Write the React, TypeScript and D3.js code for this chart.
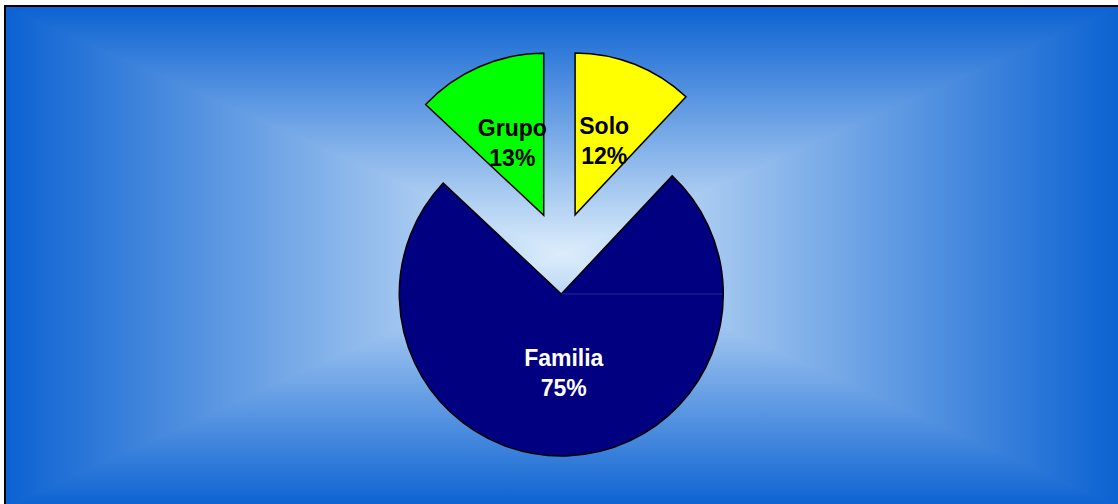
import React from "react";
import * as d3 from "d3";

const categories = ["Familia", "Grupo", "Solo"];
const values = [75, 13, 12];
const sliceColors = ["#000080", "#00ff00", "#ffff00"];
const labelColors = ["#ffffff", "#000000", "#000000"];

const W = 1118;
const H = 504;

export default function App() {
  const x0 = 6, y0 = 7, x1 = 1119, y1 = 507;
  const gcx = (x0 + x1) / 2;
  const gcy = 254;
  const edge = "#0c62d2";
  const mid = "#dcedfb";

  const cx = 560, cy = 253, R = 162, explode = 41, labelR = 79;
  const total = d3.sum(values);
  const start = (2 * Math.PI * values[2]) / total; // Familia starts after Solo
  const pie = d3
    .pie<number>()
    .sort(null)
    .value((d) => d)
    .startAngle(start)
    .endAngle(start + 2 * Math.PI);
  const arcs = pie(values);
  const arcGen = d3.arc<d3.PieArcDatum<number>>().innerRadius(0).outerRadius(R);
  const fmt = d3.format(".0%");

  return (
    <svg width={W} height={H} style={{ position: "absolute", left: 0, top: 0 }}>
      <defs>
        <linearGradient id="gT" gradientUnits="userSpaceOnUse" x1={0} y1={y0} x2={0} y2={gcy}>
          <stop offset="0" stopColor={edge} />
          <stop offset="1" stopColor={mid} />
        </linearGradient>
        <linearGradient id="gB" gradientUnits="userSpaceOnUse" x1={0} y1={y1} x2={0} y2={gcy}>
          <stop offset="0" stopColor={edge} />
          <stop offset="1" stopColor={mid} />
        </linearGradient>
        <linearGradient id="gL" gradientUnits="userSpaceOnUse" x1={x0} y1={0} x2={gcx} y2={0}>
          <stop offset="0" stopColor={edge} />
          <stop offset="1" stopColor={mid} />
        </linearGradient>
        <linearGradient id="gR" gradientUnits="userSpaceOnUse" x1={x1} y1={0} x2={gcx} y2={0}>
          <stop offset="0" stopColor={edge} />
          <stop offset="1" stopColor={mid} />
        </linearGradient>
      </defs>
      <rect x={0} y={0} width={W} height={H} fill="#ffffff" />
      <rect x={x0} y={y0} width={gcx - x0 + 1} height={y1 - y0} fill="url(#gL)" />
      <rect x={gcx} y={y0} width={x1 - gcx} height={y1 - y0} fill="url(#gR)" />
      <polygon points={`${x0},${y0} ${x1},${y0} ${gcx},${gcy}`} fill="url(#gT)" />
      <polygon points={`${x0},${y1} ${x1},${y1} ${gcx},${gcy}`} fill="url(#gB)" />
      <rect x={x0 - 1} y={y0 - 1} width={x1 - x0 + 1} height={y1 - y0 + 1} fill="none" stroke="#000" strokeWidth={2} />

      {arcs.map((a, i) => {
        const mA = (a.startAngle + a.endAngle) / 2;
        const dx = Math.sin(mA);
        const dy = -Math.cos(mA);
        const ox = cx + dx * explode;
        const oy = cy + dy * explode;
        const lx = ox + dx * labelR;
        const ly = oy + dy * labelR;
        return (
          <g key={categories[i]}>
            <path
              d={arcGen(a) || ""}
              transform={`translate(${ox},${oy})`}
              fill={sliceColors[i]}
              stroke="#000"
              strokeWidth={1.5}
              strokeLinejoin="miter"
            />
            {i === 0 && (
              <line
                x1={ox}
                y1={oy}
                x2={ox + R - 1}
                y2={oy}
                stroke="#4a4aa8"
                strokeWidth={0.8}
                opacity={0.7}
              />
            )}
            <text
              x={lx}
              y={ly}
              textAnchor="middle"
              fontFamily="'Liberation Sans', Arial, sans-serif"
              fontWeight="bold"
              fontSize={23}
              fill={labelColors[i]}
            >
              <tspan x={lx} y={ly - 15} dominantBaseline="central">{categories[i]}</tspan>
              <tspan x={lx} y={ly + 15} dominantBaseline="central">{fmt(values[i] / total)}</tspan>
            </text>
          </g>
        );
      })}
    </svg>
  );
}
